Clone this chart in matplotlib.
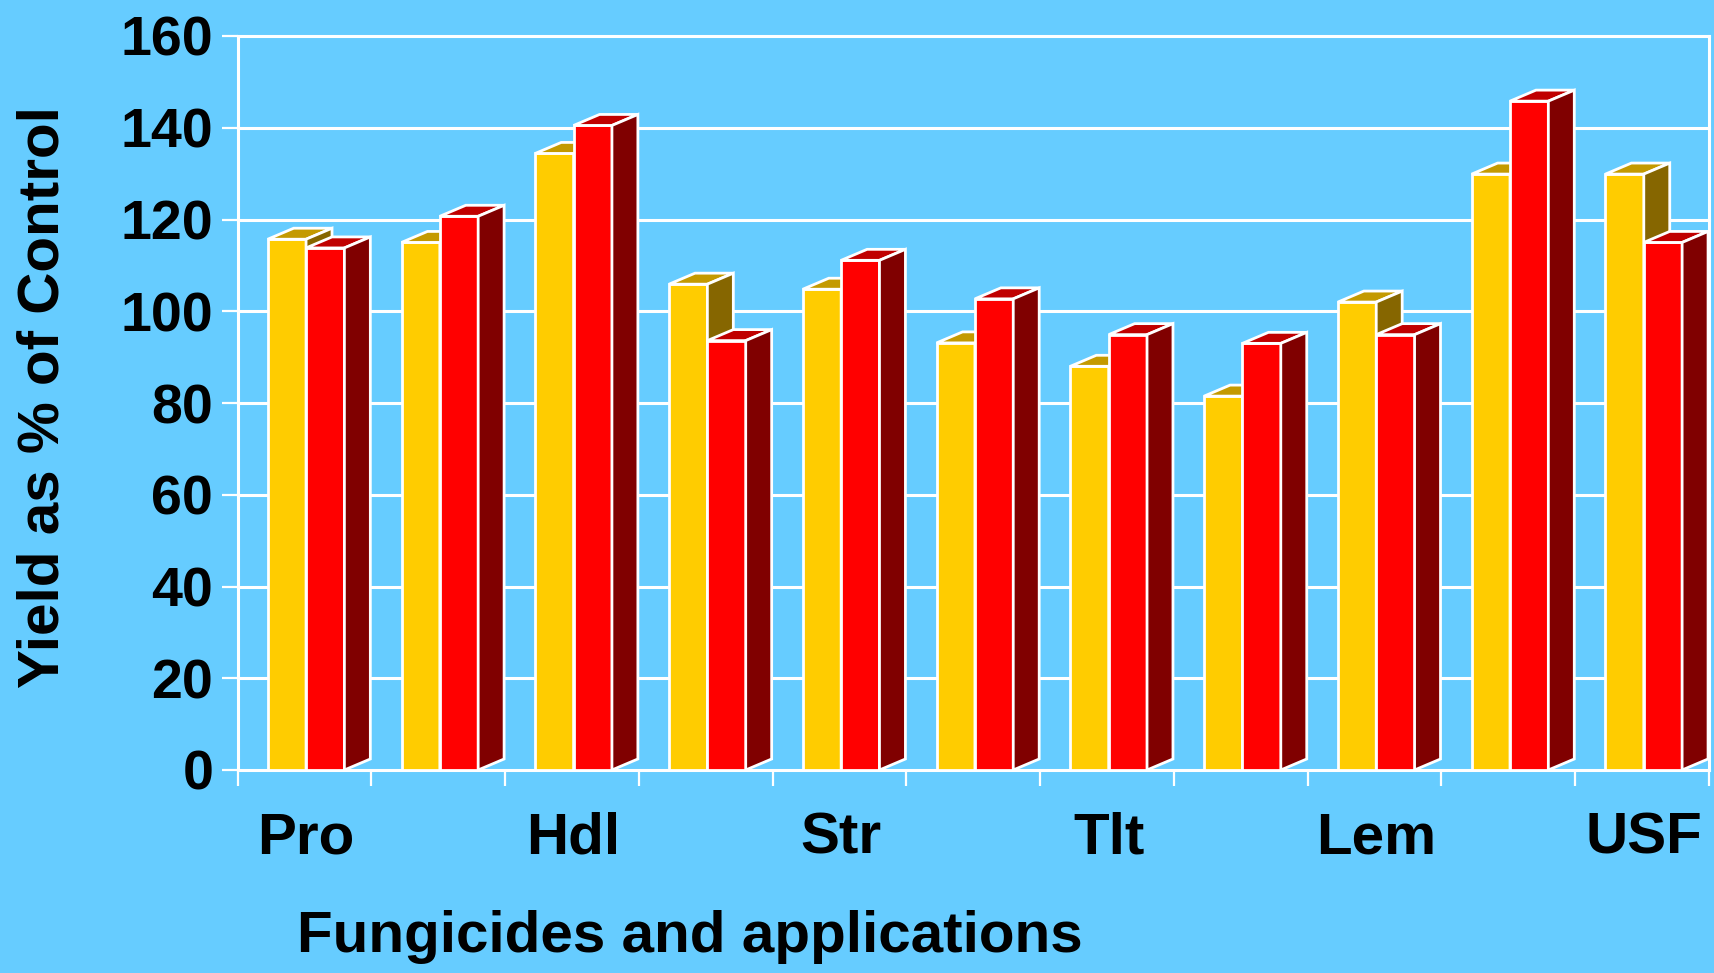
import matplotlib.pyplot as plt
from matplotlib.patches import Polygon
from matplotlib.transforms import blended_transform_factory

# yield relative to untreated control, two application timings per fungicide
yield_one = [115.7, 115.0, 134.4, 105.9, 104.8, 93.1, 88.0, 81.5, 102.0, 129.9, 129.9]
yield_two = [113.8, 120.7, 140.5, 93.6, 111.1, 102.7, 94.9, 93.0, 94.9, 145.8, 115.0]
labels = ["Pro", "", "Hdl", "", "Str", "", "Tlt", "", "Lem", "", "USF"]
yticks = [0, 20, 40, 60, 80, 100, 120, 140, 160]

BG = "#66CCFF"
YELLOW = ("#FFCC00", "#C49A00", "#866600")   # front, top, side
RED = ("#FF0000", "#C00000", "#800000")

offset = 0.226      # gap before the first bar in each group
width = 0.2865      # bar width
dx = 0.194          # depth in x (data units)
dy = 2.4            # depth in y (data units)


def bar3d(ax, x0, h, colors):
    front, top, side = colors
    kw = dict(edgecolor="white", linewidth=2, joinstyle="miter", zorder=3)
    ax.add_patch(Polygon([(x0, 0), (x0 + width, 0), (x0 + width, h), (x0, h)],
                         facecolor=front, **kw))
    ax.add_patch(Polygon([(x0, h), (x0 + width, h), (x0 + width + dx, h + dy), (x0 + dx, h + dy)],
                         facecolor=top, **kw))
    ax.add_patch(Polygon([(x0 + width, 0), (x0 + width + dx, dy), (x0 + width + dx, h + dy), (x0 + width, h)],
                         facecolor=side, **kw))


fig = plt.figure(figsize=(17.15, 9.73), dpi=100, facecolor=BG)
ax = fig.add_axes([237.5 / 1715, 1 - 770 / 973, (1709 - 237.5) / 1715, (770 - 36) / 973])
ax.set_facecolor(BG)
ax.set_xlim(0, 11)
ax.set_ylim(0, 160)

for y in yticks:
    ax.axhline(y, color="white", linewidth=2.2, zorder=1, clip_on=False)

for i in range(len(yield_one)):
    bar3d(ax, i + offset, yield_one[i], YELLOW)
    bar3d(ax, i + offset + width, yield_two[i], RED)

for s in ["top", "bottom"]:
    ax.spines[s].set_visible(False)
for s in ["left", "right"]:
    ax.spines[s].set_color("white")
    ax.spines[s].set_linewidth(2.2)
    ax.spines[s].set_zorder(2)

ax.set_yticks(yticks)
ax.set_yticklabels([str(v) for v in yticks], fontsize=40, fontweight="bold",
                   family="Liberation Sans")
ax.set_xticks(range(12))
ax.set_xticklabels([])
ax.tick_params(axis="both", direction="out", length=11.5, width=1.6, color="white")
ax.tick_params(axis="y", pad=6)

trans = blended_transform_factory(ax.transData, ax.transAxes)
for i, lab in enumerate(labels):
    if lab:
        ax.text(i + offset + width, -0.094, lab, transform=trans, ha="center", va="center",
                fontsize=42, fontweight="bold", family="Liberation Sans")

fig.text(297.5 / 1715, 1 - 937 / 973, "Fungicides and applications", ha="left", va="center",
         fontsize=42, fontweight="bold", family="Liberation Sans")
fig.text(44 / 1715, 1 - 397 / 973, "Yield as % of Control", rotation=90, ha="center", va="center",
         fontsize=42, fontweight="bold", family="Liberation Sans")

fig.savefig("out.png", dpi=100, facecolor=BG)
